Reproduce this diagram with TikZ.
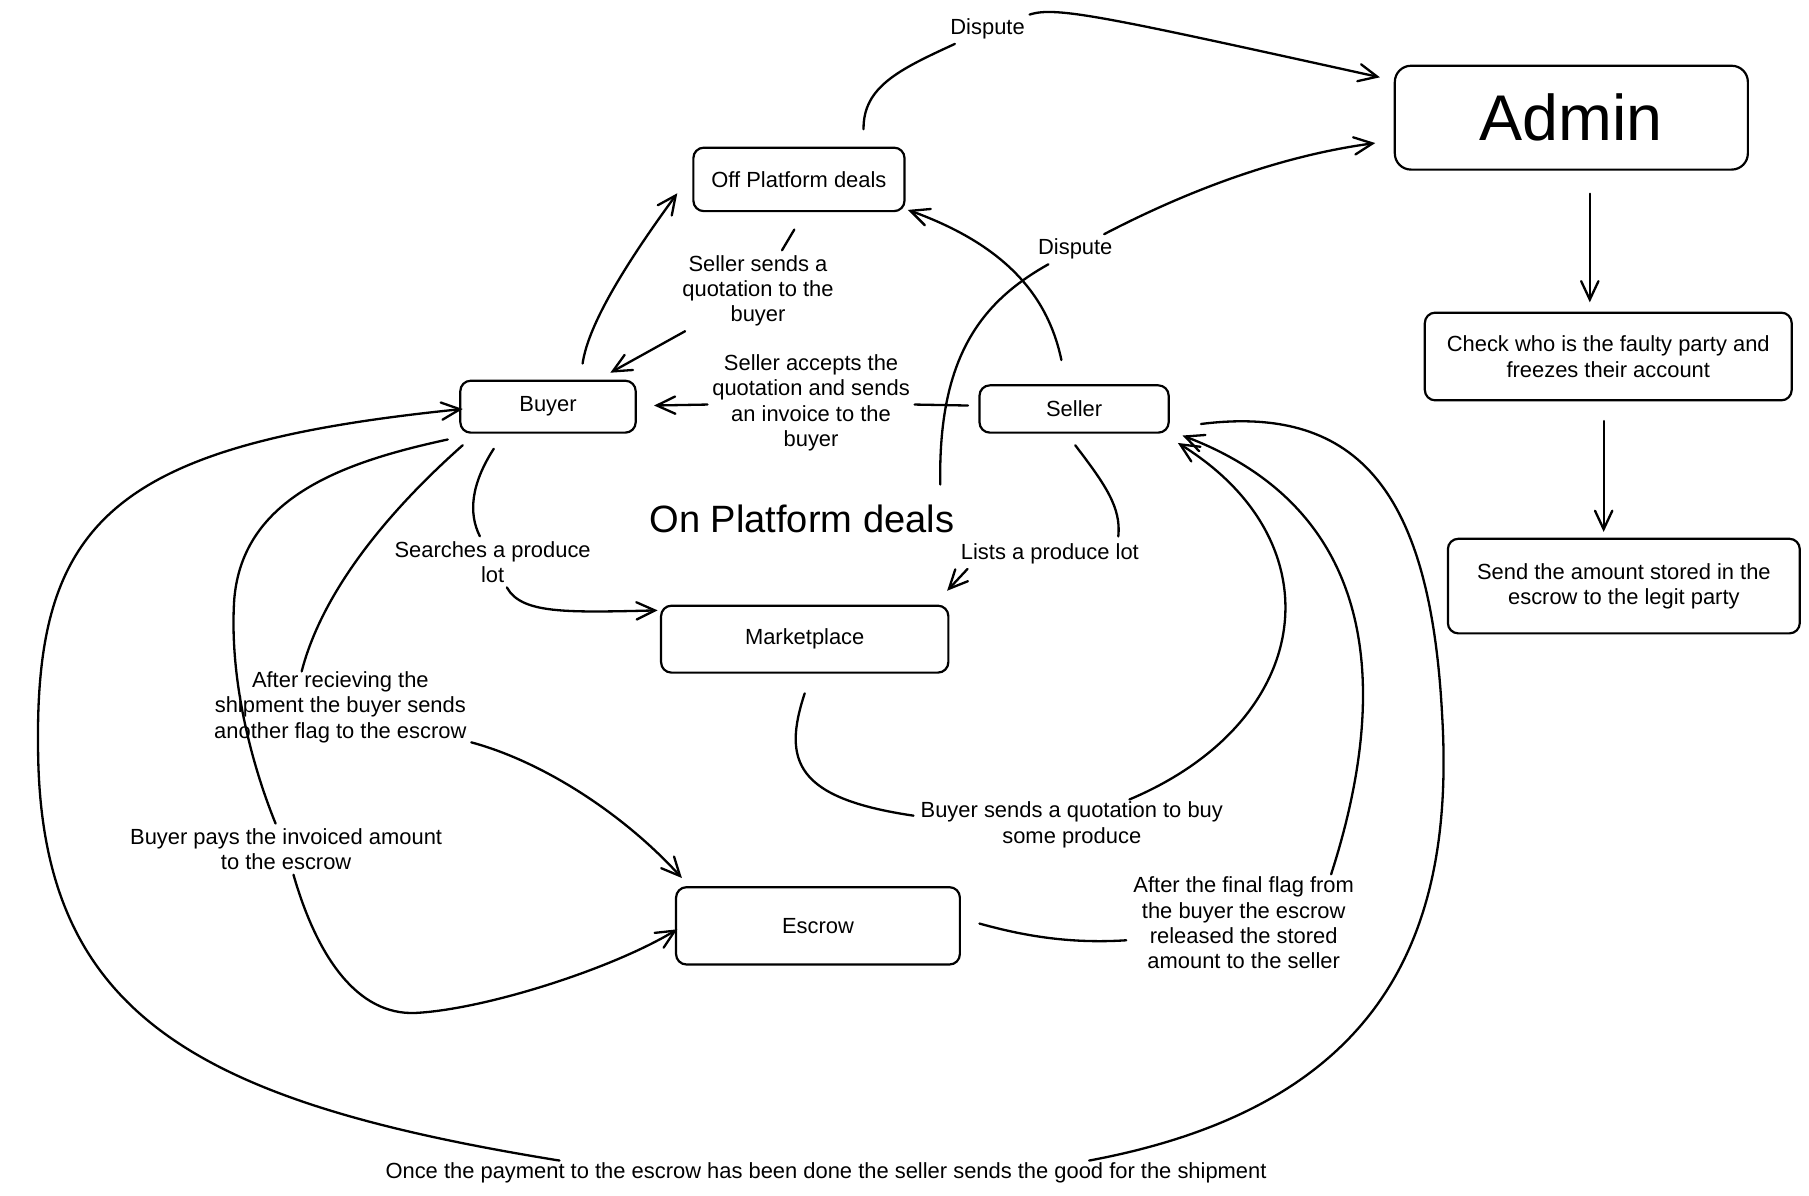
\documentclass[tikz,border=0pt]{standalone}
\usepackage{fontspec}
\setmainfont{Liberation Sans}
\usetikzlibrary{arrows.meta,calc}
\begin{document}
\begin{tikzpicture}[x=1pt,y=-1pt,
  box/.style={draw, line width=1.9pt, rounded corners=9pt, align=center, font=\fontsize{19}{22}\selectfont, inner sep=0pt},
  lbl/.style={align=center, font=\fontsize{19}{22}\selectfont, inner sep=4pt},
  con/.style={line width=2pt, line cap=round},
  arr/.style={con, -{Straight Barb[length=16pt,width=15pt,line cap=round]}}]
\fill[white] (0,0) rectangle (1568,1036);
\useasboundingbox (0,0) rectangle (1568,1036);

% boxes
\node[box, minimum width=306pt, minimum height=90pt, rounded corners=14pt, font=\fontsize{56}{60}\selectfont] (admin) at (1362,102) {Admin};
\node[box, minimum width=318pt, minimum height=76pt] (check) at (1394,309) {Check who is the faulty party and\\freezes their account};
\node[box, minimum width=305pt, minimum height=82pt] (send) at (1407.5,508) {Send the amount stored in the\\escrow to the legit party};
\node[box, minimum width=183pt, minimum height=55pt] (off) at (692.5,155.5) {Off Platform deals};
\node[box, minimum width=152pt, minimum height=45pt] (buyer) at (475,352.5) {Buyer};
\node[box, minimum width=164pt, minimum height=41pt] (seller) at (931,354.5) {Seller};
\node[box, minimum width=249pt, minimum height=58pt] (market) at (697.5,554) {Marketplace};
\node[box, minimum width=246pt, minimum height=67pt] (escrow) at (709,802.5) {Escrow};
\node[font=\fontsize{33}{36}\selectfont, inner sep=2pt] (onplat) at (695,450) {On Platform deals};

% labels
\node[lbl] (disp1) at (856,25) {Dispute};
\node[lbl] (disp2) at (932,216) {Dispute};
\node[lbl] (lq) at (657,252) {Seller sends a\\quotation to the\\buyer};
\node[lbl] (la) at (703,349) {Seller accepts the\\quotation and sends\\an invoice to the\\buyer};
\node[lbl] (ls) at (427,487) {Searches a produce\\lot};
\node[lbl] (ll) at (910,480) {Lists a produce lot};
\node[lbl] (lb) at (929,715) {Buyer sends a quotation to buy\\some produce};
\node[lbl] (lr) at (295,613) {After recieving the\\shipment the buyer sends\\another flag to the escrow};
\node[lbl] (lp) at (248,736) {Buyer pays the invoiced amount\\to the escrow};
\node[lbl] (lf) at (1078,800) {After the final flag from\\the buyer the escrow\\released the stored\\amount to the seller};
\node[lbl] (lo) at (716,1017) {Once the payment to the escrow has been done the seller sends the good for the shipment};

% admin chain
\coordinate (ax1) at (1378,0);
\coordinate (ax2) at (1390,0);
\draw[arr, shorten <=20pt, shorten >=8pt] (admin.south -| ax1) -- (check.north -| ax1);
\draw[arr, shorten <=17pt, shorten >=5pt] (check.south -| ax2) -- (send.north -| ax2);

% dispute 1
\draw[con] ($(off.north)+(56,-15)$) .. controls (748,75) and (780,60) .. (disp1);
\draw[arr] (disp1) .. controls (915,5) and (960,15) .. ($(admin.west)+(-12,-35)$);

% dispute 2
\coordinate (d2s) at (815,420);
\draw[con] (d2s) .. controls (813,310) and (850,262) .. (disp2);
\draw[arr] (disp2) .. controls (1030,165) and (1110,135) .. ($(admin.west)+(-16,22)$);

% buyer -> off platform
\draw[arr] ($(buyer.north)+(30,-14)$) .. controls (510,280) and (545,225) .. ($(off.west)+(-13,12)$);

% off platform -> buyer
\draw[con] ($(off.south)+(-4,15)$) -- (lq);
\draw[arr] (lq) -- ($(buyer.north)+(54,-6)$);

% seller -> off platform
\draw[arr] ($(seller.north)+(-11,-21)$) .. controls (908,255) and (870,212) .. ($(off.south east)+(2,-2)$);

% seller -> buyer
\draw[con] ($(seller.west)+(-9,-3)$) -- (la);
\draw[arr] (la) -- ($(buyer.east)+(15,-1)$);

% buyer -> marketplace
\draw[con] ($(buyer.south)+(-47,13)$) .. controls (408,420) and (406,445) .. (ls);
\draw[arr] (ls) .. controls (452,532) and (490,531) .. ($(market.north west)+(-2,5)$);

% seller -> marketplace
\draw[con] ($(seller.south)+(1,10)$) .. controls (958,420) and (972,440) .. ($(ll.north east)+(-22,-2)$);
\draw[arr] ($(ll.south west)+(10,0)$) -- ($(market.north east)+(-2,-12)$);

% marketplace -> seller
\draw[con] ($(market.south)+(0,17)$) .. controls (678,660) and (690,692) .. ($(lb.west)+(-2,-8)$);
\draw[arr] ($(lb.north)+(50,2)$) .. controls (1140,625) and (1160,470) .. ($(seller.south east)+(7,8)$);

% escrow -> seller
\draw[con] ($(escrow.east)+(16,-2)$) .. controls (890,812) and (930,818) .. ($(lf.west)+(-2,15)$);
\draw[arr] ($(lf.north east)+(-24,2)$) .. controls (1195,630) and (1215,450) .. ($(seller.east)+(11,23)$);

% seller -> buyer (shipment loop)
\draw[con] ($(seller.east)+(27,13)$) .. controls (1180,350) and (1240,430) .. (1250,620)
   .. controls (1262,820) and (1190,960) .. ($(lo.north east)+(-158,2)$);
\draw[arr] ($(lo.north west)+(155,2)$) .. controls (170,955) and (35,880) .. (33,650)
   .. controls (30,450) and (100,385) .. ($(buyer.west)+(3,2)$);

% buyer -> escrow (after receiving shipment)
\draw[con] ($(buyer.south west)+(3,10)$) .. controls (340,440) and (280,510) .. ($(lr.north west)+(80,4)$);
\draw[arr] (lr) .. controls (470,660) and (540,705) .. ($(escrow.north west)+(6,-7)$);

% buyer -> escrow (payment)
\draw[con] ($(buyer.south west)+(-10,5)$) .. controls (300,400) and (210,430) .. (203,520)
   .. controls (198,600) and (225,680) .. (lp);
\draw[arr] (lp) .. controls (275,830) and (310,880) .. (360,878)
   .. controls (420,875) and (530,840) .. ($(escrow.west)+(2,3)$);
\end{tikzpicture}
\end{document}
